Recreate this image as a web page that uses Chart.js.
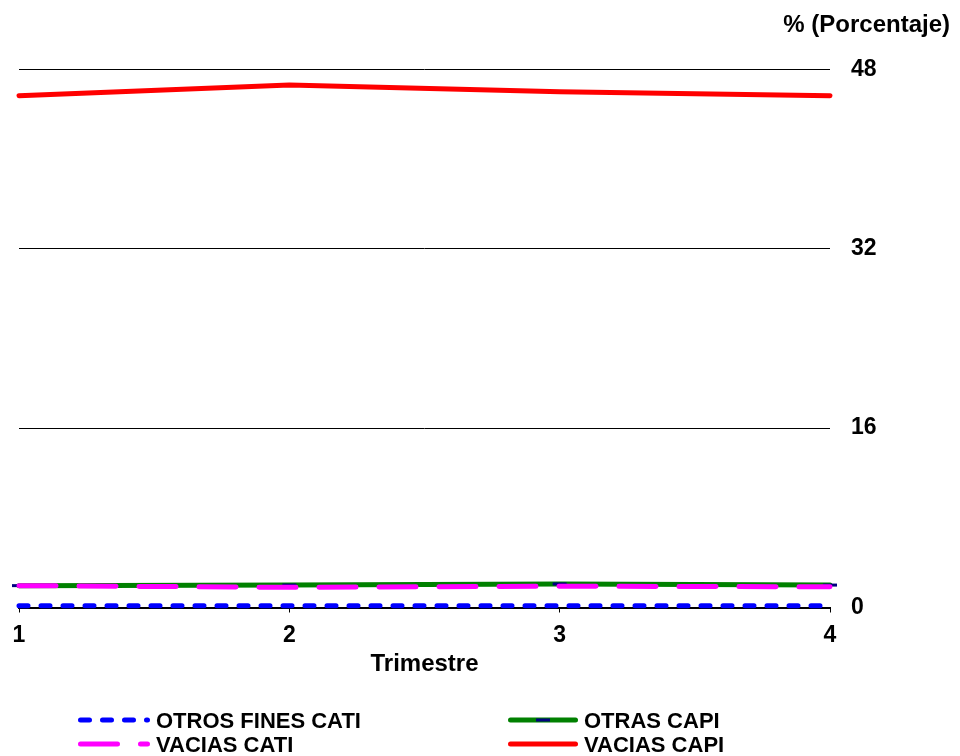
<!DOCTYPE html>
<html>
<head>
<meta charset="utf-8">
<script src="https://cdn.jsdelivr.net/npm/chart.js@4/dist/chart.umd.min.js"></script>
<style>
    html, body { margin: 0; padding: 0; background: #fff; }
    #wrap { position: relative; width: 960px; height: 756px; }
    #grafico { position: absolute; left: 0; top: 0; }
    .leg { position: absolute; font: bold 22px "Liberation Sans", Arial, sans-serif; color: #000; white-space: nowrap; }
    .leg svg { position: absolute; left: 0; top: 0; }
    .leg span { position: absolute; line-height: 24px; }
</style>
</head>
<body>
<div id="wrap">
    <canvas id="grafico" width="960" height="756"></canvas>
    <div id="leyenda"></div>
</div>
<script>
// Datos del grafico (porcentajes por trimestre)
const trimestres = ['1', '2', '3', '4'];
const otrosFinesCati = [0.15, 0.15, 0.15, 0.15];
const otrasCapi = [1.95, 2.0, 2.1, 2.0];
const vaciasCati = [1.95, 1.8, 1.9, 1.85];
const vaciasCapi = [45.65, 46.6, 46.0, 45.65];
const ticksY = [0, 16, 32, 48];

const fuente = '"Liberation Sans", Arial, sans-serif';

const series = [
    { label: 'OTROS FINES CATI', data: otrosFinesCati, color: '#0000ff', dash: [9, 13], width: 5, order: 0 },
    { label: 'OTRAS CAPI', data: otrasCapi, color: '#008000', dash: [], width: 5, order: 2, marca: '#000080' },
    { label: 'VACIAS CATI', data: vaciasCati, color: '#ff00ff', dash: [37, 23], width: 5, order: 1 },
    { label: 'VACIAS CAPI', data: vaciasCapi, color: '#ff0000', dash: [], width: 5, order: 3 }
];

const ctx = document.getElementById('grafico');
const grafico = new Chart(ctx, {
    type: 'line',
    data: {
        labels: trimestres,
        datasets: series.map(s => ({
            label: s.label,
            data: s.data,
            borderColor: s.color,
            backgroundColor: s.color,
            borderWidth: s.width,
            borderDash: s.dash,
            borderCapStyle: 'round',
            borderJoinStyle: 'round',
            tension: 0,
            fill: false,
            order: s.order,
            clip: false,
            pointStyle: 'line',
            pointRadius: s.marca ? 7 : 0,
            pointHoverRadius: s.marca ? 7 : 0,
            pointBorderColor: s.marca || s.color,
            pointBorderWidth: 3
        }))
    },
    options: {
        responsive: false,
        animation: false,
        layout: { padding: { left: 19, right: 10, top: 0, bottom: 77 } },
        plugins: {
            legend: { display: false },
            tooltip: { enabled: false },
            title: {
                display: true,
                text: '% (Porcentaje)',
                align: 'end',
                color: '#000',
                font: { family: fuente, size: 24, weight: 'bold' },
                padding: { top: 11, bottom: 29.5 }
            }
        },
        scales: {
            x: {
                offset: false,
                grid: { drawOnChartArea: false, drawTicks: true, tickLength: 5, color: '#000', lineWidth: 1 },
                border: { display: true, color: '#000', width: 2 },
                ticks: { color: '#000', padding: 9, font: { family: fuente, size: 23, weight: 'bold' } },
                title: {
                    display: true,
                    text: 'Trimestre',
                    color: '#000',
                    padding: 0,
                    font: { family: fuente, size: 24, weight: 'bold' }
                },
                afterFit: function (scale) { scale.height = 71.5; }
            },
            y: {
                position: 'right',
                min: ticksY[0],
                max: ticksY[ticksY.length - 1],
                afterBuildTicks: function (scale) { scale.ticks = ticksY.map(v => ({ value: v })); },
                grid: { color: '#000', lineWidth: 1, drawTicks: false },
                border: { display: false },
                ticks: { color: '#000', padding: 21, font: { family: fuente, size: 23, weight: 'bold' } },
                afterFit: function (scale) { scale.width = 120; }
            }
        }
    }
});

// Leyenda en dos columnas
const posLeyenda = [
    { x: 78, y: 709 }, { x: 508, y: 709 },
    { x: 78, y: 733 }, { x: 508, y: 733 }
];
let html = '';
series.forEach((s, i) => {
    const p = posLeyenda[i];
    const largo = i % 2 === 0 ? 72 : 70;
    let linea = `<line x1="2.5" y1="11" x2="${largo - 2.5}" y2="11" stroke="${s.color}" stroke-width="${s.width}" stroke-linecap="round"` +
        (s.dash.length ? ` stroke-dasharray="${s.dash.join(' ')}"` : '') + '/>';
    if (s.marca) {
        linea += `<line x1="${largo / 2 - 7}" y1="11" x2="${largo / 2 + 7}" y2="11" stroke="${s.marca}" stroke-width="3"/>`;
    }
    html += `<div class="leg" style="left:${p.x}px;top:${p.y}px;">
        <svg width="${largo}" height="24">${linea}</svg>
        <span style="left:${largo + 6}px;top:0;">${s.label}</span>
    </div>`;
});
document.getElementById('leyenda').innerHTML = html;
</script>
</body>
</html>
